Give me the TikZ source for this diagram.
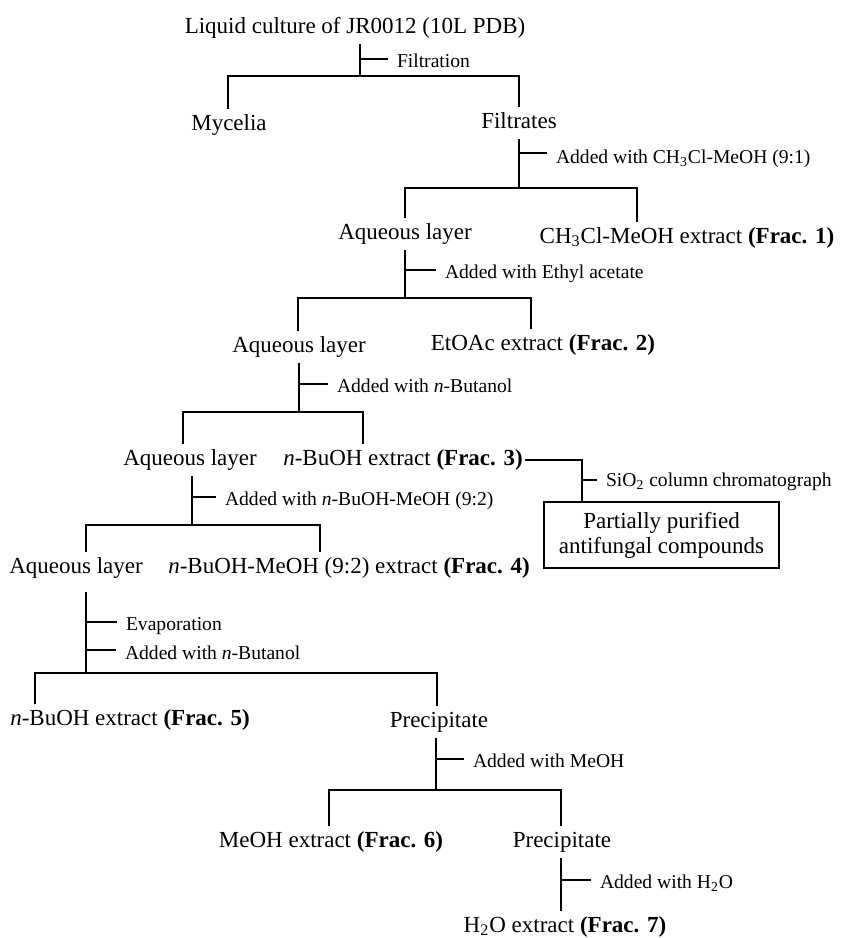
\documentclass[tikz,border=0pt]{standalone}
\usepackage{fontspec}
\setmainfont{Liberation Serif}
\begin{document}
\begin{tikzpicture}[x=0.5pt,y=-0.5pt,line width=0.75pt,
  txt/.style={font=\fontsize{11.5}{13}\selectfont,inner xsep=0pt,inner ysep=2pt,text height=8pt,text depth=3pt,anchor=base},
  lab/.style={font=\fontsize{9.8}{12}\selectfont,inner sep=0pt,outer xsep=4.5pt,outer ysep=0pt,anchor=base west},
  res/.style={draw,line width=0.75pt,align=center,font=\fontsize{11.5}{12.5}\selectfont,minimum width=117.5pt,minimum height=33pt,inner sep=0pt}]
\useasboundingbox (0,0) rectangle (845,938);
% main texts
\node[txt] (title) at (355,33) {Liquid culture of JR0012 (10L PDB)};
\node[txt] (myc) at (229,130) {Mycelia};
\node[txt] (filt) at (519,128) {Filtrates};
\node[txt] (aq1) at (405,239) {Aqueous layer};
\node[txt] (f1) at (687,243) {CH\textsubscript{3}Cl-MeOH extract \textbf{(Frac. 1)}};
\node[txt] (aq2) at (299,352) {Aqueous layer};
\node[txt] (f2) at (543,350) {EtOAc extract \textbf{(Frac. 2)}};
\node[txt] (aq3) at (190,465) {Aqueous layer};
\node[txt] (f3) at (403,465) {\textit{n}-BuOH extract \textbf{(Frac. 3)}};
\node[res] (box) at (661.5,535) {Partially purified\\antifungal compounds};
\node[txt] (aq4) at (76,573) {Aqueous layer};
\node[txt] (f4) at (349,573) {\textit{n}-BuOH-MeOH (9:2) extract \textbf{(Frac. 4)}};
\node[txt] (f5) at (130,725) {\textit{n}-BuOH extract \textbf{(Frac. 5)}};
\node[txt] (pre1) at (439,727) {Precipitate};
\node[txt] (f6) at (331,847) {MeOH extract \textbf{(Frac. 6)}};
\node[txt] (pre2) at (562,847) {Precipitate};
\node[txt] (f7) at (565,932) {H\textsubscript{2}O extract \textbf{(Frac. 7)}};
% step labels
\node[lab] (L1) at (388,67) {Filtration};
\node[lab] (L2) at (547,163) {Added with CH\textsubscript{3}Cl-MeOH (9:1)};
\node[lab] (L3) at (436,278) {Added with Ethyl acetate};
\node[lab] (L4) at (328,392) {Added with \textit{n}-Butanol};
\node[lab] (L5) at (597,486) {SiO\textsubscript{2} column chromatograph};
\node[lab] (L6) at (216,505) {Added with \textit{n}-BuOH-MeOH (9:2)};
\node[lab] (L7) at (117,630) {Evaporation};
\node[lab] (L8) at (116,659) {Added with \textit{n}-Butanol};
\node[lab] (L9) at (464,767) {Added with MeOH};
\node[lab] (L10) at (591,888) {Added with H\textsubscript{2}O};
% junctions and bar ends
\coordinate (j1) at (360,76);  \coordinate (b1l) at (228,76);  \coordinate (b1r) at (519,76);
\coordinate (j2) at (519,188); \coordinate (b2l) at (405,188); \coordinate (b2r) at (637,188);
\coordinate (j3) at (405,298); \coordinate (b3l) at (298,298); \coordinate (b3r) at (531,298);
\coordinate (j4) at (299,412); \coordinate (b4l) at (183,412); \coordinate (b4r) at (363,412);
\coordinate (j5) at (192,525); \coordinate (b5l) at (86,525);  \coordinate (b5r) at (320,525);
\coordinate (j6) at (86,673);  \coordinate (b6l) at (35,673);  \coordinate (b6r) at (437,673);
\coordinate (j7) at (436,790); \coordinate (b7l) at (329,790); \coordinate (b7r) at (561,790);
\coordinate (s1) at (582,460);
\coordinate (a4s) at (86,592);
% tick points
\coordinate (t1) at (360,59);
\coordinate (t2) at (519,153);
\coordinate (t3) at (405,270);
\coordinate (t4) at (299,384);
\coordinate (t5) at (582,480);
\coordinate (t6) at (192,497);
\coordinate (t7) at (86,622);
\coordinate (t8) at (86,650);
\coordinate (t9) at (436,759);
\coordinate (t10) at (561,880);
% step 1
\draw (title.south -| j1) -- (j1);
\draw (t1) -- (t1 -| L1.west);
\draw (myc.north -| b1l) -- (b1l) -- (b1r) -- (filt.north -| b1r);
% step 2
\draw (filt.south -| j2) -- (j2);
\draw (t2) -- (t2 -| L2.west);
\draw (aq1.north -| b2l) -- (b2l) -- (b2r) -- (f1.north -| b2r);
% step 3
\draw (aq1.south -| j3) -- (j3);
\draw (t3) -- (t3 -| L3.west);
\draw (aq2.north -| b3l) -- (b3l) -- (b3r) -- (f2.north -| b3r);
% step 4
\draw (aq2.south -| j4) -- (j4);
\draw (t4) -- (t4 -| L4.west);
\draw (aq3.north -| b4l) -- (b4l) -- (b4r) -- (f3.north -| b4r);
% column chromatography
\draw ([xshift=1pt]f3.east) -- (f3.east -| s1) -- (box.north -| s1);
\draw (t5) -- (t5 -| L5.west);
% step 5
\draw (aq3.south -| j5) -- (j5);
\draw (t6) -- (t6 -| L6.west);
\draw (aq4.north -| b5l) -- (b5l) -- (b5r) -- (f4.north -| b5r);
% step 6
\draw (a4s) -- (j6);
\draw (t7) -- (t7 -| L7.west);
\draw (t8) -- (t8 -| L8.west);
\draw (f5.north -| b6l) -- (b6l) -- (b6r) -- (pre1.north -| b6r);
% step 7
\draw (pre1.south -| j7) -- (j7);
\draw (t9) -- (t9 -| L9.west);
\draw (f6.north -| b7l) -- (b7l) -- (b7r) -- (pre2.north -| b7r);
% step 8
\draw (pre2.south -| b7r) -- (f7.north -| b7r);
\draw (t10) -- (t10 -| L10.west);
\end{tikzpicture}
\end{document}
